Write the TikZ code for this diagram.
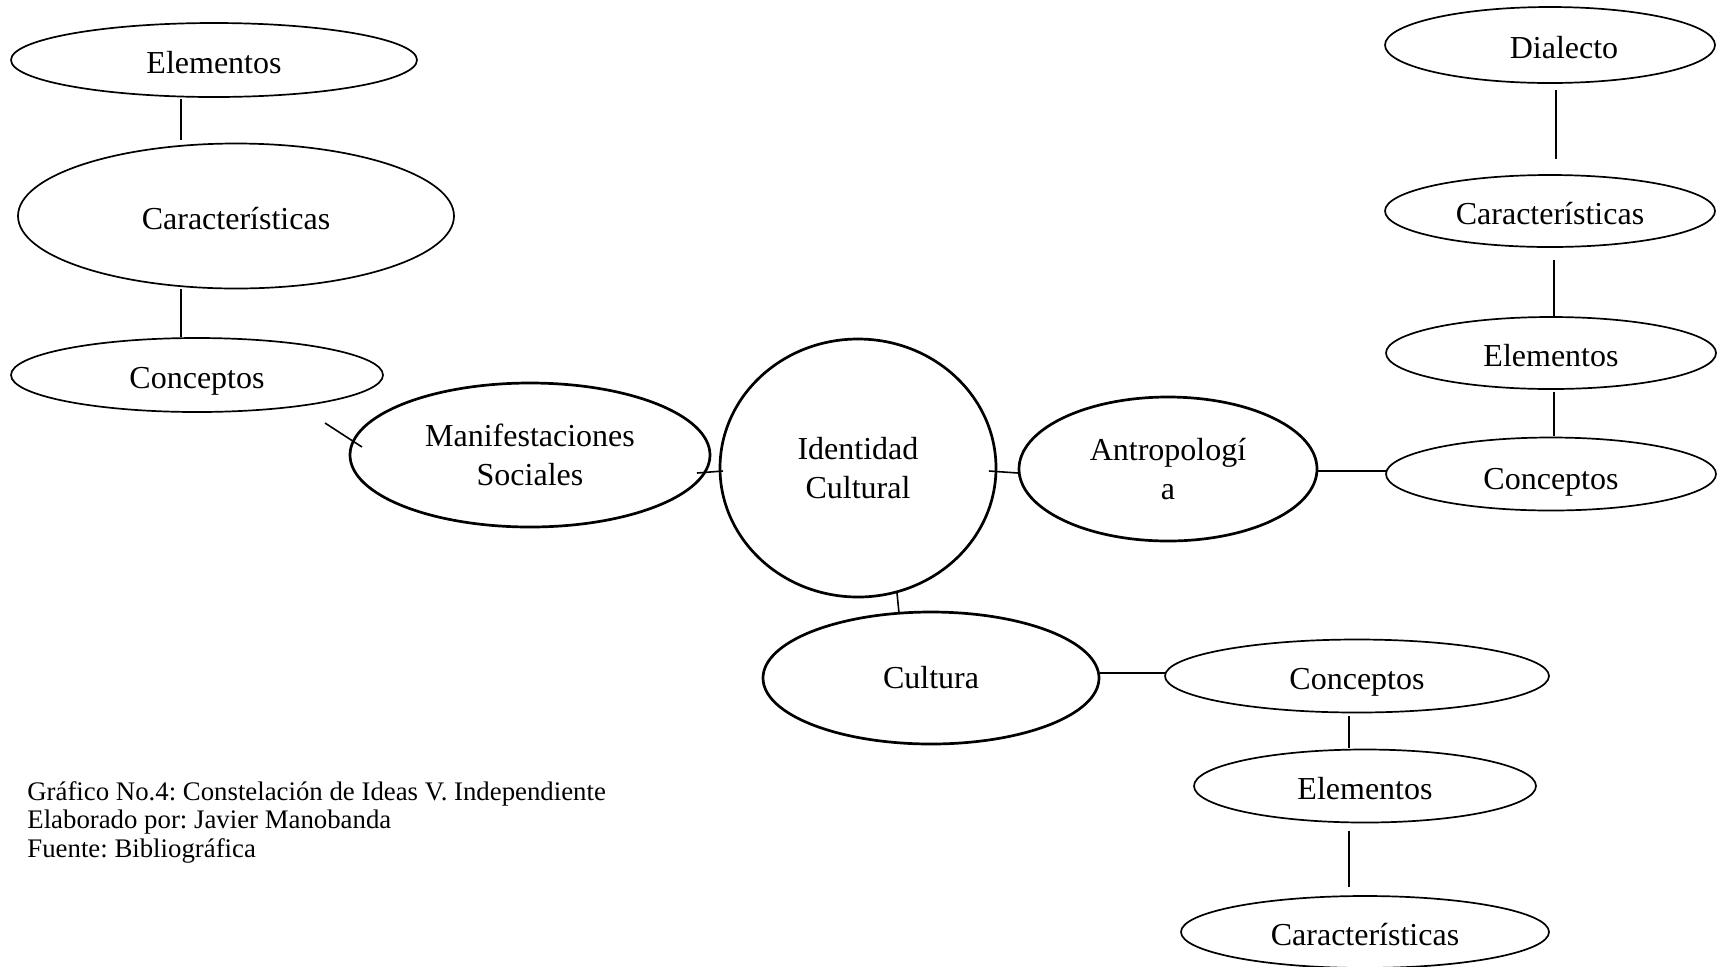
\documentclass[tikz,border=0pt]{standalone}
\usepackage{fontspec}
\setmainfont{Liberation Serif}
\usetikzlibrary{shapes.geometric}
\frenchspacing
\begin{document}
\begin{tikzpicture}[x=0.5pt,y=-0.5pt,
  base/.style={ellipse,draw,inner sep=0pt,align=center,font=\fontsize{16}{19.5}\selectfont},
  outer/.style={base,line width=0.85pt,text height=13.5pt,text depth=0pt},
  main/.style={base,line width=1.35pt},
  link/.style={line width=0.8pt}]
\useasboundingbox (0,0) rectangle (1718,966);
% left branch
\node[outer,minimum width=203pt,minimum height=37pt] (e1) at (214,60) {Elementos};
\node[outer,minimum width=218pt,minimum height=72.5pt] (c1) at (236,216) {Características};
\node[outer,minimum width=186pt,minimum height=37pt] (k1) at (197,375) {Conceptos};
% main
\node[main,minimum width=180pt,minimum height=72pt] (ms) at (530,455) {Manifestaciones\\Sociales};
\node[main,minimum width=138pt,minimum height=129pt] (id) at (858,468) {Identidad\\Cultural};
\node[main,minimum width=149pt,minimum height=72pt] (an) at (1168,469) {Antropologí\\a};
\node[main,minimum width=168pt,minimum height=66pt] (cu) at (931,678) {Cultura};
% right column
\node[outer,minimum width=165pt,minimum height=38pt] (d2) at (1550,45) {\hspace*{14pt}Dialecto};
\node[outer,minimum width=165pt,minimum height=36pt] (c2) at (1550,211) {Características};
\node[outer,minimum width=165pt,minimum height=36pt] (e2) at (1551,353) {Elementos};
\node[outer,minimum width=165pt,minimum height=36.5pt,text height=15pt] (k2) at (1551,474) {Conceptos};
% bottom right
\node[outer,minimum width=192pt,minimum height=36.5pt] (k3) at (1357,676) {Conceptos};
\node[outer,minimum width=171pt,minimum height=36.5pt] (e3) at (1365,786) {Elementos};
\node[outer,minimum width=184pt,minimum height=36pt] (c3) at (1365,932) {Características};
% caption
\node[anchor=base west,align=left,inner sep=0pt,font=\fontsize{13.4}{14.25}\selectfont] (cap) at (27,857)
  {Gráfico No.4: Constelación de Ideas V. Independiente\\Elaborado por: Javier Manobanda\\Fuente: Bibliográfica};
% connector ends
\coordinate (a1) at (181,99);  \coordinate (b1) at (181,140);
\coordinate (a2) at (181,289); \coordinate (b2) at (181,337);
\coordinate (a3) at (325,423); \coordinate (b3) at (362,447);
\coordinate (a4) at (697,473); \coordinate (b4) at (723,471);
\coordinate (a5) at (989,471); \coordinate (b5) at (1018,473);
\coordinate (a6) at (897,593); \coordinate (b6) at (899,613);
\coordinate (a7) at (1317,471); \coordinate (b7) at (1386,471);
\coordinate (a8) at (1556,90); \coordinate (b8) at (1556,159);
\coordinate (a9) at (1554,260); \coordinate (b9) at (1554,317);
\coordinate (a10) at (1554,392); \coordinate (b10) at (1554,436);
\coordinate (a11) at (1100,673); \coordinate (b11) at (1165,673);
\coordinate (a12) at (1349,716); \coordinate (b12) at (1349,748);
\coordinate (a13) at (1349,831); \coordinate (b13) at (1349,887);
\foreach \i in {1,...,13} \draw[link] (a\i) -- (b\i);
\end{tikzpicture}
\end{document}
